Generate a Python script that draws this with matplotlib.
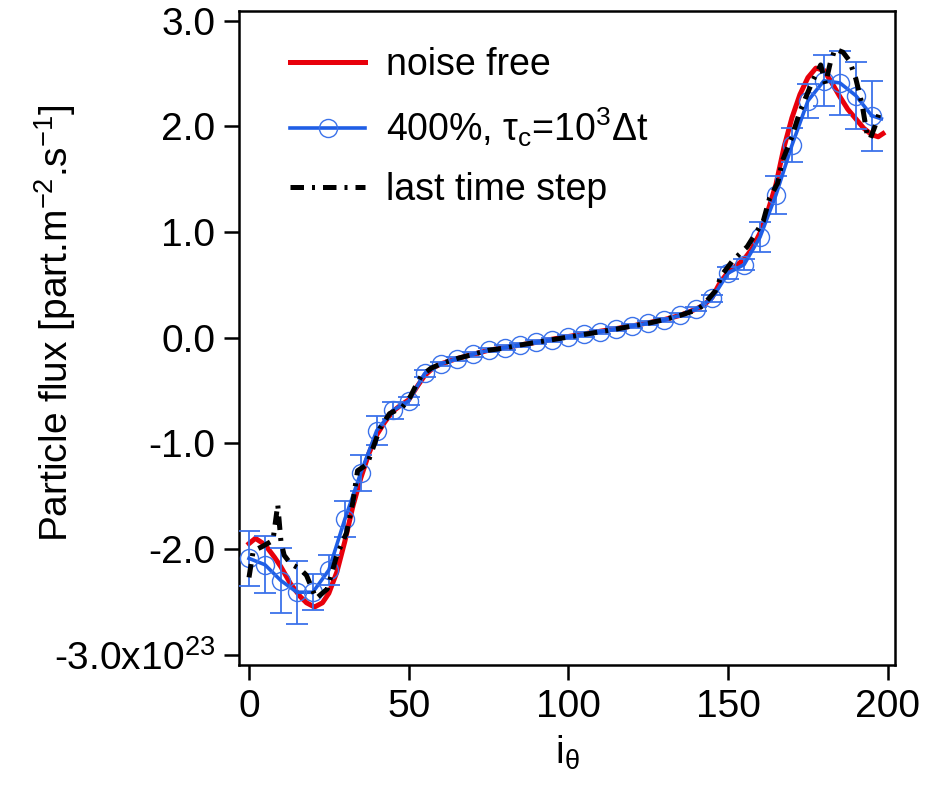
import numpy as np
import matplotlib
matplotlib.use('Agg')
import matplotlib.pyplot as plt

plt.rcParams['font.family'] = ['Liberation Sans', 'DejaVu Sans']
plt.rcParams['mathtext.fontset'] = 'custom'
plt.rcParams['mathtext.rm'] = 'Liberation Sans'
plt.rcParams['mathtext.it'] = 'Liberation Sans'
plt.rcParams['mathtext.bf'] = 'Liberation Sans'

# flux values in units of 1e23 part.m^-2.s^-1
red_x = [0, 2, 5, 8, 10, 13, 16, 18, 20.5, 23, 25, 27.5, 30, 32.5, 35, 37.5, 40, 42.5,
         45, 47.5, 50, 52.5, 55, 57.5, 60, 65, 70, 75, 80, 85, 90, 95, 100, 105, 110,
         115, 120, 125, 130, 135, 140, 142.5, 145, 147.5, 150, 152.5, 155, 157.5, 160,
         162.5, 165, 167.5, 170, 172.5, 175, 177.5, 180, 182.5, 185, 187.5, 190, 192.5,
         195, 197, 198.5]
red_y = [-1.95, -1.90, -1.96, -2.08, -2.17, -2.33, -2.45, -2.51, -2.55, -2.51, -2.42,
         -2.22, -1.93, -1.60, -1.33, -1.10, -0.92, -0.80, -0.70, -0.64, -0.59, -0.47,
         -0.36, -0.29, -0.25, -0.20, -0.16, -0.12, -0.095, -0.07, -0.045, -0.015, 0.01,
         0.035, 0.06, 0.085, 0.11, 0.14, 0.17, 0.21, 0.27, 0.31, 0.38, 0.52, 0.62, 0.68,
         0.74, 0.84, 0.99, 1.20, 1.45, 1.80, 2.08, 2.30, 2.46, 2.55, 2.53, 2.41, 2.28,
         2.16, 2.07, 1.98, 1.92, 1.90, 1.93]

blue_x = [0, 5, 10, 15, 20, 25, 30, 35, 40, 45, 50, 55, 60, 65, 70, 75, 80, 85, 90, 95,
          100, 105, 110, 115, 120, 125, 130, 135, 140, 145, 150, 155, 160, 165, 170, 175,
          180, 185, 190, 195]
blue_y = [-2.09, -2.15, -2.30, -2.41, -2.41, -2.20, -1.72, -1.28, -0.88, -0.69, -0.60,
          -0.34, -0.25, -0.20, -0.16, -0.12, -0.095, -0.07, -0.045, -0.02, 0.005, 0.03,
          0.055, 0.08, 0.11, 0.135, 0.165, 0.21, 0.27, 0.37, 0.61, 0.69, 0.95, 1.35,
          1.82, 2.24, 2.43, 2.41, 2.29, 2.10]
blue_err = [0.26, 0.27, 0.31, 0.30, 0.17, 0.14, 0.17, 0.17, 0.14, 0.08, 0.04, 0.03,
            0.02, 0.02, 0.02, 0.02, 0.02, 0.02, 0.02, 0.02, 0.02, 0.02, 0.02, 0.02, 0.02,
            0.02, 0.02, 0.02, 0.02, 0.03, 0.06, 0.05, 0.14, 0.18, 0.16, 0.16, 0.24, 0.30,
            0.32, 0.33]
blue_end_x = [195, 198]
blue_end_y = [2.10, 2.07]

black_x = [0, 1.3, 4, 7.5, 9, 10, 11, 13, 16, 18, 21, 24.5, 27.5, 30.5, 32.5, 34, 37, 39,
           41, 44, 48, 50.5, 52.5, 54, 57, 60, 65, 70, 75, 80, 85, 90, 95, 100, 105, 110,
           115, 120, 125, 130, 135, 140, 142, 146, 148, 151.5, 156, 161, 163, 165.5, 167,
           170, 172.5, 176.5, 179, 180.5, 182, 183.5, 186, 188, 190, 192, 193.5, 194.5,
           196, 197.5]
black_y = [-2.27, -2.02, -1.98, -1.92, -1.58, -1.93, -2.06, -2.14, -2.19, -2.25, -2.47,
           -2.38, -2.06, -1.85, -1.56, -1.26, -1.20, -1.03, -0.86, -0.72, -0.66, -0.56,
           -0.44, -0.36, -0.29, -0.25, -0.20, -0.16, -0.12, -0.10, -0.07, -0.045, -0.02,
           0.005, 0.03, 0.055, 0.08, 0.11, 0.135, 0.17, 0.21, 0.26, 0.30, 0.44, 0.59,
           0.73, 0.86, 1.10, 1.32, 1.46, 1.67, 1.90, 2.14, 2.43, 2.58, 2.40, 2.60, 2.73,
           2.70, 2.62, 2.45, 2.20, 1.93, 1.88, 2.00, 2.14]

yticks = [-3, -2, -1, 0, 1, 2, 3]
ytick_labels = ['-3.0x10$^{23}$', '-2.0', '-1.0', '0.0', '1.0', '2.0', '3.0']
xticks = [0, 50, 100, 150, 200]

red = '#e8000b'
blue = '#1f5ee6'

fig = plt.figure(figsize=(9.34, 7.89), dpi=100)
ax = fig.add_axes([0.256, 0.157, 0.702, 0.829])

ax.plot(red_x, red_y, color=red, lw=3.6, label='noise free', zorder=2)
ax.errorbar(blue_x, blue_y, yerr=blue_err, fmt='none', ecolor='#3b72ea', elinewidth=1.3,
            capsize=8, capthick=1.3, zorder=3)
ax.plot(blue_end_x, blue_end_y, color=blue, lw=2.6, zorder=3)
ax.plot(blue_x, blue_y, color=blue, lw=2.6, marker='o', ms=13, mfc='none', mec='#3b72ea',
        mew=1.0, label=r'400%, $\tau_{\rm c}$=10$^{3}$$\Delta$t', zorder=3)
ax.plot(black_x, black_y, color='black', lw=3.6, dashes=(2.7, 1.6, 0.6, 1.6),
        label='last time step', zorder=4)

ax.set_xlim(-3.1, 202.2)
ax.set_ylim(-3.1, 3.09)
ax.set_xticks(xticks)
ax.set_yticks(yticks)
ax.set_yticklabels(ytick_labels)
ax.tick_params(labelsize=28, length=11, width=1.8, direction='out', pad=6)
for s in ax.spines.values():
    s.set_linewidth(1.8)

ax.set_ylabel('Particle flux [part.m$^{-2}$.s$^{-1}$]', fontsize=28)
ax.yaxis.set_label_coords(-0.245, 0.523)
ax.set_xlabel(r'i$_{\theta}$', fontsize=28)
ax.xaxis.set_label_coords(0.5, -0.105)

ax.legend(loc='upper left', frameon=False, fontsize=27, handlelength=2.0,
          handletextpad=0.55, labelspacing=0.6, borderaxespad=0.0,
          bbox_to_anchor=(0.055, 0.968))

fig.savefig('out.png', dpi=100)
